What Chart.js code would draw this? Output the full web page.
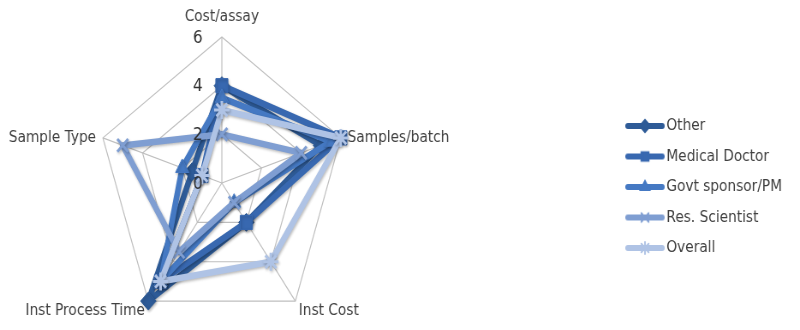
<!DOCTYPE html>
<html><head><meta charset="utf-8">
<script src="https://cdn.jsdelivr.net/npm/chart.js@4.4.1/dist/chart.umd.min.js"></script>
<style>
html,body{margin:0;padding:0;background:#fff;overflow:hidden;width:800px;height:330px}
#wrap{width:934px;height:330px;transform:scaleX(0.8565);transform-origin:0 0}
</style></head><body>
<div id="wrap"><canvas id="c" width="934" height="330"></canvas></div>
<script>
// ---- data ----
const categories = ['Cost/assay', 'Samples/batch', 'Inst Cost', 'Inst Process Time', 'Sample Type'];
const seriesNames = ['Other', 'Medical Doctor', 'Govt sponsor/PM', 'Res. Scientist', 'Overall'];
const otherValues = [4, 5, 2, 6, 1.5];
const medicalDoctorValues = [4, 6, 2, 5, 1];
const govtSponsorValues = [3.5, 5.5, 1, 5, 2];
const resScientistValues = [2, 4, 1, 3.5, 5];
const overallValues = [3, 6, 4, 5, 1];
const tickValues = [0, 2, 4, 6];

// ---- style ----
const FONT = '"DejaVu Sans", "Liberation Sans", sans-serif';
const seriesStyles = [
  {color: '#2E5B97', point: 'rectRot', radius: 9, bw: 1},
  {color: '#3868B0', point: 'rect', radius: 10, bw: 1},
  {color: '#4579C3', point: 'triangle', radius: 9, bw: 1},
  {color: '#7F9ED2', point: 'crossRot', radius: 9, bw: 3},
  {color: '#AFC3E5', point: 'star', radius: 9, bw: 3}
];
const seriesValues = [otherValues, medicalDoctorValues, govtSponsorValues, resScientistValues, overallValues];

function makeSymbol(st) {
  const c = document.createElement('canvas');
  c.width = 46; c.height = 18;
  const g = c.getContext('2d');
  g.strokeStyle = st.color; g.lineWidth = 6; g.lineCap = 'round';
  g.beginPath(); g.moveTo(3, 9); g.lineTo(43, 9); g.stroke();
  g.fillStyle = st.color; g.lineWidth = 2;
  if (Chart.helpers && Chart.helpers.drawPoint) {
    Chart.helpers.drawPoint(g, {pointStyle: st.point, radius: 6, borderWidth: 2, rotation: 0}, 23, 9);
  }
  return c;
}
const symbols = seriesStyles.map(makeSymbol);

const datasets = seriesNames.map((name, i) => ({
  label: name,
  data: seriesValues[i],
  borderColor: seriesStyles[i].color,
  backgroundColor: seriesStyles[i].color,
  fill: false,
  borderWidth: 6.5,
  borderJoinStyle: 'round',
  pointStyle: seriesStyles[i].point,
  pointRadius: seriesStyles[i].radius,
  pointHoverRadius: seriesStyles[i].radius,
  pointBackgroundColor: seriesStyles[i].color,
  pointBorderColor: seriesStyles[i].color,
  pointBorderWidth: seriesStyles[i].bw,
  order: seriesNames.length - i,
  clip: false
}));

const CX = 259, CY = 183, RAD = 146;

const shadowPlugin = {
  id: 'lineShadow',
  beforeDatasetsDraw(chart) {
    const ctx = chart.ctx; ctx.save();
    ctx.shadowColor = 'rgba(0,0,0,0.28)'; ctx.shadowBlur = 3; ctx.shadowOffsetX = 1; ctx.shadowOffsetY = 1.5;
  },
  afterDatasetsDraw(chart) { chart.ctx.restore(); }
};

const textPlugin = {
  id: 'radarText',
  afterDraw(chart) {
    const s = chart.scales.r, ctx = chart.ctx;
    ctx.save();
    ctx.font = '16px ' + FONT; ctx.fillStyle = '#404040'; ctx.textBaseline = 'middle';
    categories.forEach((lab, i) => {
      const a = s.getIndexAngle(i);
      const p = s.getPointPosition(i, s.drawingArea);
      const sn = Math.sin(a), cs = Math.cos(a);
      let x = p.x, y = p.y;
      if (Math.abs(sn) < 0.1) { ctx.textAlign = 'center'; y -= 20; }
      else {
        ctx.textAlign = sn > 0 ? 'left' : 'right';
        const dx = cs < 0 ? 4 : 8;
        x += sn > 0 ? dx : -dx;
        if (cs < 0) y += 10;
      }
      ctx.fillText(lab, x, y);
    });
    ctx.font = '18px ' + FONT; ctx.fillStyle = '#303030'; ctx.textAlign = 'center';
    tickValues.forEach(v => {
      const d = s.getDistanceFromCenterForValue(v);
      ctx.fillText(String(v), s.xCenter - 28, s.yCenter - d + 1);
    });
    ctx.restore();
  }
};

new Chart(document.getElementById('c'), {
  type: 'radar',
  data: {labels: categories, datasets: datasets},
  plugins: [shadowPlugin, textPlugin],
  options: {
    responsive: false,
    animation: false,
    layout: {padding: {top: 44, right: 11, bottom: 0, left: 0}},
    plugins: {
      tooltip: {enabled: false},
      legend: {
        position: 'right',
        labels: {
          usePointStyle: true,
          pointStyleWidth: 34,
          padding: 14.5,
          color: '#404040',
          font: {family: FONT, size: 16},
          generateLabels(chart) {
            const items = Chart.defaults.plugins.legend.labels.generateLabels(chart);
            items.sort((a, b) => a.datasetIndex - b.datasetIndex);
            items.forEach(it => { it.pointStyle = symbols[it.datasetIndex]; it.fontColor = '#404040'; });
            return items;
          }
        }
      }
    },
    scales: {
      r: {
        min: 0, max: 6,
        ticks: {stepSize: 2, display: false},
        pointLabels: {display: false},
        grid: {color: '#BFBFBF', lineWidth: 1.2},
        angleLines: {color: '#BFBFBF', lineWidth: 1.2},
        afterFit(scale) { scale.xCenter = CX; scale.yCenter = CY; scale.drawingArea = RAD; }
      }
    }
  }
});
</script>
</body></html>
